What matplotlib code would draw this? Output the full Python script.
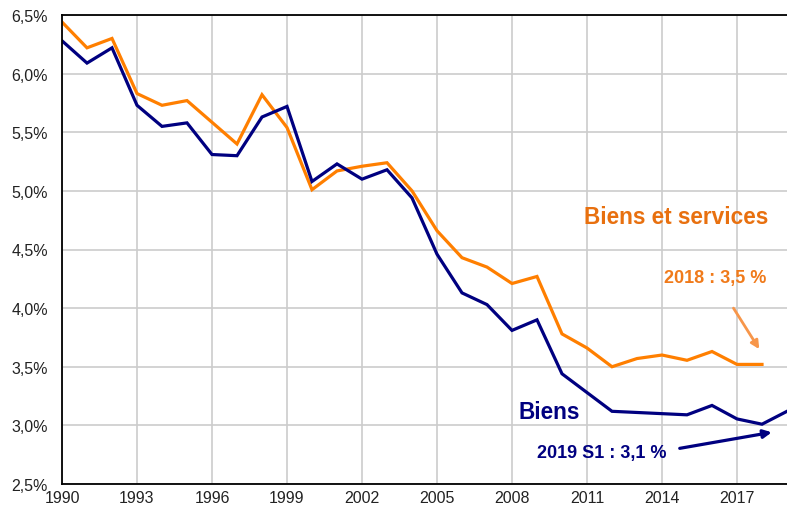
import matplotlib
matplotlib.use("Agg")
import matplotlib.pyplot as plt
from matplotlib.ticker import FuncFormatter

plt.rcParams['font.family'] = ['Liberation Sans', 'DejaVu Sans']

# taux de TVA implicite (lecture du graphique)
years_bs = list(range(1990, 2019))
biens_services = [6.44, 6.22, 6.30, 5.83, 5.73, 5.77, 5.585, 5.40, 5.82, 5.54,
                  5.01, 5.17, 5.21, 5.24, 5.00, 4.66, 4.43, 4.35, 4.21, 4.27,
                  3.78, 3.66, 3.50, 3.57, 3.60, 3.555, 3.63, 3.52, 3.52]

years_b = list(range(1990, 2020))
biens = [6.28, 6.09, 6.22, 5.73, 5.55, 5.58, 5.31, 5.30, 5.63, 5.72,
         5.08, 5.23, 5.10, 5.18, 4.94, 4.46, 4.13, 4.03, 3.81, 3.90,
         3.44, 3.28, 3.12, 3.11, 3.10, 3.09, 3.17, 3.055, 3.01, 3.12]

xticks = list(range(1990, 2018, 3))
yticks = [2.5, 3.0, 3.5, 4.0, 4.5, 5.0, 5.5, 6.0, 6.5]

navy = '#000080'

fig = plt.figure(figsize=(7.87, 5.06), dpi=100)
ax = fig.add_axes([62 / 787, 21 / 506, 1 - 62 / 787, 469 / 506])

ax.plot(years_bs, biens_services, color='#FF7F00', lw=2.3, solid_joinstyle='miter')
ax.plot(years_b, biens, color=navy, lw=2.3, solid_joinstyle='miter')

ax.set_xlim(1990, 2019)
ax.set_ylim(2.5, 6.5)
ax.set_xticks(xticks)
ax.set_yticks(yticks)
ax.yaxis.set_major_formatter(FuncFormatter(lambda v, p: f"{v:.1f}%".replace('.', ',')))
ax.tick_params(length=0, labelsize=11.5, colors='#222222')
ax.tick_params(axis='y', pad=10)
ax.tick_params(axis='x', pad=4.5)
ax.grid(True, color='#CCCCCC', lw=1.2)
ax.set_axisbelow(True)
for s in ['left', 'bottom', 'top']:
    ax.spines[s].set_linewidth(1.3)
    ax.spines[s].set_color('black')
ax.spines['right'].set_visible(False)

ax.text(2010.9, 4.78, 'Biens et services', color='#E8700F', fontsize=16.3,
        fontweight='bold', va='center', ha='left')
ax.text(2014.1, 4.265, '2018 : 3,5 %', color='#F07A1A', fontsize=13,
        fontweight='bold', va='center', ha='left')
ax.annotate('', xy=(2017.95, 3.63), xytext=(2016.8, 4.02),
            arrowprops=dict(arrowstyle='-|>', color='#F7964A', lw=2, mutation_scale=12))

ax.text(2008.25, 3.115, 'Biens', color=navy, fontsize=16.3,
        fontweight='bold', va='center', ha='left')
ax.text(2009.0, 2.765, '2019 S1 : 3,1 %', color=navy, fontsize=13,
        fontweight='bold', va='center', ha='left')
ax.annotate('', xy=(2018.5, 2.945), xytext=(2014.6, 2.8),
            arrowprops=dict(arrowstyle='-|>', color=navy, lw=2.3, mutation_scale=12))

fig.savefig('out.png', dpi=100)
